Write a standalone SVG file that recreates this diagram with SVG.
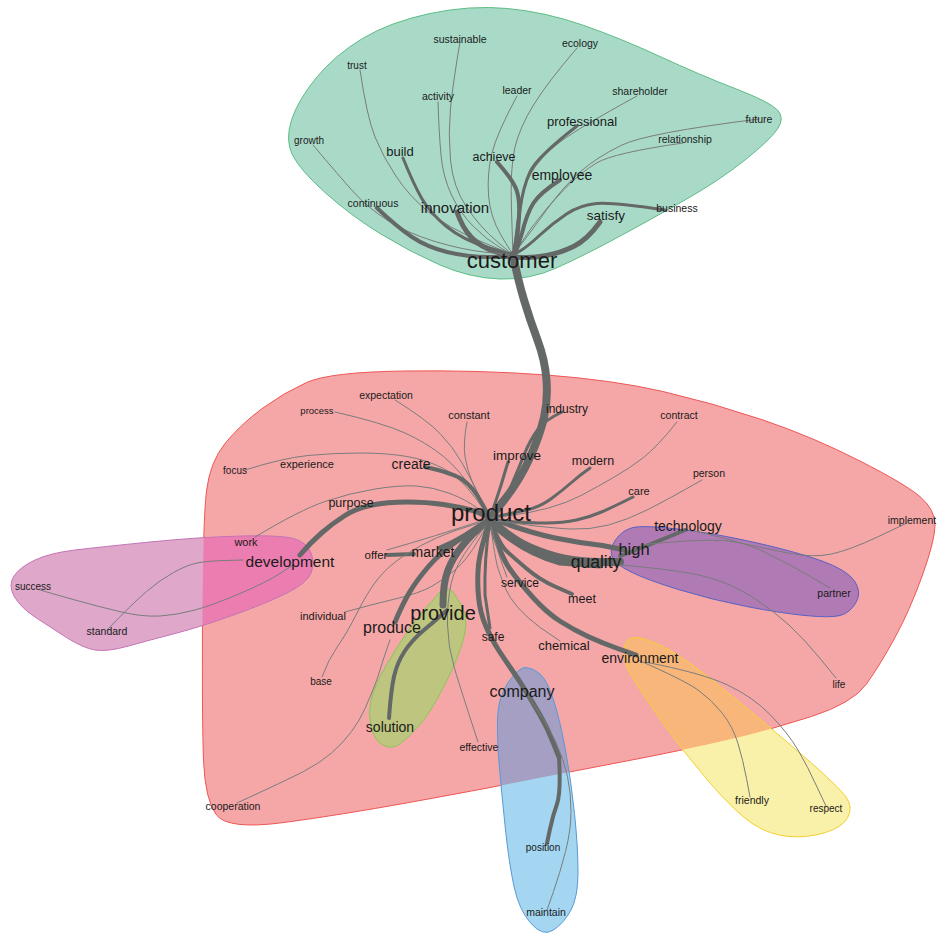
<svg xmlns="http://www.w3.org/2000/svg" width="941" height="938" viewBox="0 0 941 938">
<style>
.lbl{font-family:"Liberation Sans",Arial,sans-serif;fill:#1a1a1a;text-anchor:middle}
.e{fill:none;stroke:#646867;stroke-linecap:round;stroke-linejoin:round}
.t{fill:none;stroke:#7a7c7c;stroke-width:1;stroke-linecap:round;stroke-linejoin:round}
</style>
<defs>
<path id="redShape" d="M206.5,491 Q210,462 225,443.5 Q240,425 261.5,409 Q283,393 306.5,382.5 Q330,372 405,371 Q480,370 546.5,375 Q613,380 663,391.5 Q713,403 763,420 Q813,437 860,461 Q907,485 921,497.5 Q935,510 935,525 Q935,540 922.5,575 Q910,610 895,637.5 Q880,665 866.5,684 Q853,703 811.5,716.5 Q770,730 727,740 Q684,750 624,761.5 Q564,773 521,781.5 Q478,790 409,802.5 Q340,815 284,822.5 Q228,830 216.5,815 Q205,800 203.5,760 Q202,720 202.5,620 Q203,520 206.5,491 Z"/>
<path id="magShape" d="M14,596 Q8,585 14,576 Q20,567 35,560 Q50,553 75,550 Q100,547 150,542 Q200,537 241.5,536 Q283,535 295,539 Q307,543 311,553 Q315,563 311,573 Q307,583 287,593 Q267,603 233.5,615 Q200,627 175,633.5 Q150,640 128.5,646 Q107,652 95,650 Q83,648 66.5,637.5 Q50,627 35,617 Q20,607 14,596 Z"/>
<path id="blueShape" d="M526,667.5 Q519,667 508.5,682 Q498,697 497.5,718.5 Q497,740 499.5,768.5 Q502,797 505.5,830 Q509,863 514,886.5 Q519,910 531,923.5 Q543,937 553.5,930 Q564,923 571,910 Q578,897 578,872 Q578,847 574.5,813.5 Q571,780 565.5,750 Q560,720 553.5,700 Q547,680 540,674 Q533,668 526,667.5 Z"/>
<path id="yelShape" d="M624,649 Q626,638 634.5,637.5 Q643,637 663.5,647 Q684,657 727,692 Q770,727 804.5,757 Q839,787 846,797 Q853,807 848,817 Q843,827 825.5,832.5 Q808,838 789,836.5 Q770,835 753,824 Q736,813 710,783 Q684,753 662,721.5 Q640,690 631,675 Q622,660 624,649 Z"/>
<clipPath id="redClip"><use href="#redShape"/></clipPath>
</defs>
<g id="clusters">
<path id="cluster-customer" d="M292.5,155 Q285,140 291.5,120 Q298,100 316.5,77.5 Q335,55 362.5,38.5 Q390,22 430,13.5 Q470,5 507.5,8.5 Q545,12 582.5,25 Q620,38 660,56.5 Q700,75 735,88.5 Q770,102 777.5,110 Q785,118 777.5,129 Q770,140 745,160 Q720,180 685,200 Q650,220 617.5,237.5 Q585,255 557.5,267.5 Q530,280 500,279 Q470,278 440,265 Q410,252 380,233.5 Q350,215 325,192.5 Q300,170 292.5,155 Z" fill="#a9dac8" stroke="#5cbd84" stroke-width="1"/>
<use id="cluster-product" href="#redShape" fill="#f5a7a7" stroke="#ef5656" stroke-width="1"/>
<g id="cluster-development">
<use href="#magShape" fill="#dfa8cb"/>
<use href="#magShape" fill="#ec7db1" clip-path="url(#redClip)"/>
<use href="#magShape" fill="none" stroke="#c474b6" stroke-width="1"/>
</g>
<path id="cluster-provide" d="M446.5,589 Q452,588 457,598.5 Q464,607 465.5,618.5 Q467,630 460.5,648.5 Q454,667 442,690 Q430,713 419.5,725 Q409,737 400.5,743.5 Q392,750 383,745 Q374,740 371,726.5 Q368,713 371,700 Q374,687 386.5,665 Q399,643 412.5,625 Q426,607 434.5,598.5 Q441,589 446.5,589 Z" fill="#bec57e" stroke="#86c956" stroke-width="1"/>
<path id="cluster-quality" d="M611.5,555 Q610,547 616.5,538.5 Q623,530 633,527.5 Q643,525 678,529 Q713,533 755,542.5 Q797,552 822,561 Q847,570 854.5,581 Q862,592 856,602.5 Q850,613 840,615.5 Q830,618 805,615.5 Q780,613 746.5,606.5 Q713,600 680,590 Q647,580 630,571.5 Q613,563 611.5,555 Z" fill="#b07ab4" stroke="#5a62c2" stroke-width="1"/>
<g id="cluster-company">
<use href="#blueShape" fill="#a4d6f1"/>
<use href="#blueShape" fill="#a59fc3" clip-path="url(#redClip)"/>
<use href="#blueShape" fill="none" stroke="#5a98d6" stroke-width="1"/>
</g>
<g id="cluster-environment">
<use href="#yelShape" fill="#f9f1a9"/>
<use href="#yelShape" fill="#f9b67a" clip-path="url(#redClip)"/>
<use href="#yelShape" fill="none" stroke="#f2d02e" stroke-width="1"/>
</g>
</g>
<g id="connectors">
<path class="t" d="M360,70 Q367,117 375,137 Q383,157 396.5,177 Q410,197 428.5,212 Q447,227 480,241 L513,255"/>
<path class="t" d="M460,42 Q453,83 450.5,108 Q448,133 450.5,160 Q453,187 466.5,207 Q480,227 496.5,241 L513,255"/>
<path class="t" d="M438,102 Q439,133 441,155 Q443,177 451.5,195 Q460,213 473.5,226.5 Q487,240 500,247.5 L513,255"/>
<path class="t" d="M517,96 Q497,133 492,153 Q487,173 488.5,195 Q490,217 501.5,236 L513,255"/>
<path class="t" d="M577,48 Q547,83 533.5,105 Q520,127 515,147 Q510,167 511.5,211 L513,255"/>
<path class="t" d="M637,96 Q580,127 560,142 Q540,157 530,175 Q520,193 516.5,224 L513,255"/>
<path class="e" stroke-width="3" d="M577,126 Q537,157 530,172 Q523,187 520,210 Q517,233 515,244 L513,255"/>
<path class="t" stroke-width="1.3" d="M759,119 Q647,133 622,145 Q597,157 580,172 Q563,187 546.5,210 Q530,233 521.5,244 L513,255"/>
<path class="t" d="M683,143 Q613,153 596.5,163 Q580,173 563.5,190 Q547,207 532,227 L513,255"/>
<path class="e" stroke-width="4" d="M560,180 Q540,193 533.5,203 Q527,213 522,233 L515,255"/>
<path class="e" stroke-width="4" d="M497,162 Q513,180 516.5,190 Q520,200 519,216.5 Q518,233 516.5,244 L515,255"/>
<path class="e" stroke-width="3" d="M403,158 Q413,183 421.5,198 Q430,213 446.5,226.5 Q463,240 488,247.5 L513,255"/>
<path class="e" stroke-width="5" d="M457,212 Q462,227 471,237 Q480,247 496.5,252 L513,257"/>
<path class="t" d="M313,145 Q340,177 353.5,192 Q367,207 387,220 Q407,233 435,241.5 Q463,250 488,252.5 L513,255"/>
<path class="e" stroke-width="4" d="M377,208 Q397,227 412,237 Q427,247 447,252 Q467,257 490,257 L513,257"/>
<path class="e" stroke-width="3" d="M665,210 Q613,202 596.5,203.5 Q580,205 566.5,214 Q553,223 540,235 Q527,247 520,251 L513,255"/>
<path class="e" stroke-width="5" d="M600,222 Q587,240 573.5,246.5 Q560,253 546.5,255.5 Q533,258 523,257.5 L513,257"/>
<path class="e" stroke-width="8" d="M513,255 Q518,280 524,300 Q530,320 537.5,340 Q545,360 546.5,380 Q548,400 544,417.5 Q540,435 530,457.5 Q520,480 505,499 L490,518"/>
<path class="e" stroke-width="3" d="M562,412 Q545,420 537.5,430 Q530,440 524,455 Q518,470 511.5,485 Q505,500 497.5,509 L490,518"/>
<path class="e" stroke-width="3" d="M508,462 Q500,490 490,518"/>
<path class="t" stroke-width="1.5" d="M467,422 Q463,443 465,456.5 Q467,470 472,481 Q477,492 483.5,505 L490,518"/>
<path class="t" d="M395,400 Q427,420 440,433.5 Q453,447 461.5,462 Q470,477 480,497.5 L490,518"/>
<path class="t" d="M335,412 Q383,423 405,433 Q427,443 443.5,456.5 Q460,470 475,494 L490,518"/>
<path class="t" d="M245,470 Q283,458 308,455.5 Q333,453 360,453 Q387,453 407,456.5 Q427,460 443.5,468.5 Q460,477 475,497.5 L490,518"/>
<path class="e" stroke-width="4" d="M425,467 Q453,473 463,480 Q473,487 481.5,502.5 L490,518"/>
<path class="t" d="M255,537 Q300,510 325,501.5 Q350,493 375,489 Q400,485 416.5,486 Q433,487 450,493.5 Q467,500 478.5,509 L490,518"/>
<path class="e" stroke-width="5" d="M300,555 Q310,543 321.5,533 Q333,523 345,515.5 Q357,508 372,505 Q387,502 407,502 Q427,502 443.5,504.5 Q460,507 475,511 L490,518"/>
<path class="t" d="M40,590 Q50,593 75,600 Q100,607 121.5,612 Q143,617 160,616 Q177,615 195,610 Q213,605 240,593.5 Q267,582 280,573.5 L293,565"/>
<path class="t" d="M107,630 Q133,603 146.5,591.5 Q160,580 173.5,572.5 Q187,565 197,563 Q207,561 225,560.5 L243,560"/>
<path class="e" stroke-width="5" d="M440,548 Q467,537 490,518"/>
<path class="e" stroke-width="4" d="M387,555 L414,554"/>
<path class="t" d="M387,550 Q433,537 490,518"/>
<path class="t" d="M345,612 Q370,605 395,599 Q420,593 431.5,586.5 Q443,580 455,570 Q467,560 478.5,540 L490,520"/>
<path class="t" d="M322,677 Q328,660 337.5,646.5 Q347,633 357,613 Q367,593 377,580 Q387,567 403.5,556 Q420,545 437.5,537.5 Q455,530 472.5,525 L490,520"/>
<path class="e" stroke-width="5" d="M395,622 Q403,603 410,591.5 Q417,580 428.5,566.5 Q440,553 456.5,541.5 Q473,530 481.5,525 L490,520"/>
<path class="e" stroke-width="7" d="M443,605 Q443,583 448,570 Q453,557 463,545 Q473,533 481.5,526.5 L490,520"/>
<path class="e" stroke-width="4" d="M389,718 Q391,690 394,676.5 Q397,663 404.5,651.5 Q412,640 424,630 Q436,620 441.5,615 L447,610"/>
<path class="t" d="M478,742 Q461,690 454.5,668.5 Q448,647 447.5,625 Q447,603 451,584 Q455,565 472.5,542.5 L490,520"/>
<path class="t" d="M237,803 Q287,780 303.5,771.5 Q320,763 331.5,753 Q343,743 351.5,731.5 Q360,720 365,708.5 Q370,697 373.5,688.5 Q377,680 380,670 Q383,660 386.5,650 L390,640"/>
<path class="e" stroke-width="5" d="M490,520 Q480,550 478.5,565 Q477,580 478.5,596.5 Q480,613 486,626.5 Q492,640 498.5,650 Q505,660 512,670 Q519,680 526,691.5 Q533,703 540,715 Q547,727 553,742 L559,757"/>
<path class="e" stroke-width="4" d="M559,757 Q561,793 557,804 Q553,815 550,829 L547,843"/>
<path class="e" stroke-width="3" d="M490,520 Q484,560 485,595 L490,628"/>
<path class="t" d="M524,690 Q547,723 555.5,741.5 Q564,760 567.5,776.5 Q571,793 571,811.5 Q571,830 565.5,851.5 Q560,873 553.5,891.5 L547,910"/>
<path class="e" stroke-width="5" d="M490,520 Q500,555 509.5,568.5 Q519,582 533,597.5 Q547,613 560.5,621.5 Q574,630 588,636.5 Q602,643 619,649 L636,655"/>
<path class="t" stroke-width="1.5" d="M490,520 Q495,560 498.5,570 Q502,580 505.5,588.5 Q509,597 517.5,607 Q526,617 539.5,627 L560,641"/>
<path class="e" stroke-width="4" d="M490,520 Q500,545 506.5,551 Q513,557 526.5,568.5 Q540,580 555,586.5 L572,594"/>
<path class="t" stroke-width="1.5" d="M490,522 Q498,555 507,577"/>
<path class="t" stroke-width="1.3" d="M638,660 Q684,680 698,690 Q712,700 722.5,713.5 Q733,727 738,743.5 Q743,760 746.5,778.5 L750,797"/>
<path class="t" d="M645,662 Q702,673 727.5,685 Q753,697 770.5,715 Q788,733 798,750 Q808,767 817,787 L826,806"/>
<path class="e" stroke-width="8" d="M490,520 Q513,540 530,547.5 Q547,555 563.5,558.5 Q580,562 600,562 L620,562"/>
<path class="e" stroke-width="5" d="M490,522 Q520,552 560,563 L600,566"/>
<path class="e" stroke-width="5" d="M490,518 Q530,533 555,538 Q580,543 602.5,545.5 L625,550"/>
<path class="e" stroke-width="4" d="M620,556 Q657,542 685,530"/>
<path class="t" d="M620,565 Q680,570 705,576.5 Q730,583 751.5,596.5 Q773,610 789,625 Q805,640 820.5,659 L836,678"/>
<path class="t" d="M640,545 Q713,537 738,542.5 Q763,548 788,553 Q813,558 831.5,554 Q850,550 878.5,536.5 L907,523"/>
<path class="t" d="M690,530 Q747,543 763.5,551.5 Q780,560 796.5,568.5 L830,588"/>
<path class="e" stroke-width="3" d="M590,468 Q580,475 571.5,482.5 Q563,490 551.5,498.5 Q540,507 526.5,510 Q513,513 501.5,515.5 L490,518"/>
<path class="t" d="M677,422 Q657,447 643.5,457.5 Q630,468 613.5,477.5 Q597,487 582,495 Q567,503 548.5,508 Q530,513 510,515.5 L490,518"/>
<path class="e" stroke-width="3" d="M633,497 Q613,507 601.5,512 Q590,517 576.5,520 Q563,523 546.5,523 Q530,523 510,521.5 L490,520"/>
<path class="t" d="M702,480 Q667,500 647,510 Q627,520 608.5,525 Q590,530 570,529 Q550,528 520,524 L490,520"/>
</g>
<g id="nodes" class="lbl">
<text id="n-customer" x="512" y="268" font-size="22">customer</text>
<text id="n-sustainable" x="460" y="43" font-size="10.5">sustainable</text>
<text id="n-ecology" x="580" y="47" font-size="10.5">ecology</text>
<text id="n-trust" x="357" y="69" font-size="10">trust</text>
<text id="n-leader" x="517" y="94" font-size="10.5">leader</text>
<text id="n-activity" x="438" y="100" font-size="10.5">activity</text>
<text id="n-shareholder" x="640" y="95" font-size="10.5">shareholder</text>
<text id="n-professional" x="582" y="126" font-size="13">professional</text>
<text id="n-future" x="759" y="123" font-size="10.5">future</text>
<text id="n-growth" x="309" y="144" font-size="10">growth</text>
<text id="n-relationship" x="685" y="143" font-size="10.5">relationship</text>
<text id="n-build" x="400" y="156" font-size="13">build</text>
<text id="n-achieve" x="494" y="161" font-size="12.5">achieve</text>
<text id="n-employee" x="562" y="180" font-size="14">employee</text>
<text id="n-continuous" x="373" y="207" font-size="10.5">continuous</text>
<text id="n-innovation" x="455" y="213" font-size="15">innovation</text>
<text id="n-business" x="677" y="212" font-size="10.5">business</text>
<text id="n-satisfy" x="606" y="220" font-size="13.5">satisfy</text>
<text id="n-product" x="491" y="521" font-size="24">product</text>
<text id="n-expectation" x="386" y="399" font-size="10.5">expectation</text>
<text id="n-process" x="317" y="414" font-size="9.5">process</text>
<text id="n-constant" x="469" y="419" font-size="11">constant</text>
<text id="n-industry" x="567" y="413" font-size="12">industry</text>
<text id="n-contract" x="679" y="419" font-size="10.5">contract</text>
<text id="n-improve" x="517" y="460" font-size="13.5">improve</text>
<text id="n-modern" x="593" y="465" font-size="12.5">modern</text>
<text id="n-focus" x="235" y="474" font-size="10">focus</text>
<text id="n-experience" x="307" y="468" font-size="11">experience</text>
<text id="n-create" x="411" y="469" font-size="14">create</text>
<text id="n-person" x="709" y="477" font-size="10.5">person</text>
<text id="n-care" x="639" y="495" font-size="11">care</text>
<text id="n-purpose" x="351" y="507" font-size="12.5">purpose</text>
<text id="n-technology" x="688" y="531" font-size="14">technology</text>
<text id="n-implement" x="912" y="524" font-size="10.5">implement</text>
<text id="n-work" x="246" y="546" font-size="11">work</text>
<text id="n-development" x="290" y="567" font-size="15.5">development</text>
<text id="n-offer" x="376" y="559" font-size="11.5">offer</text>
<text id="n-market" x="433" y="557" font-size="14">market</text>
<text id="n-high" x="634" y="555" font-size="16.5">high</text>
<text id="n-quality" x="596" y="568" font-size="17.5">quality</text>
<text id="n-service" x="520" y="587" font-size="12">service</text>
<text id="n-partner" x="834" y="597" font-size="10.5">partner</text>
<text id="n-meet" x="582" y="603" font-size="12.5">meet</text>
<text id="n-individual" x="323" y="620" font-size="11">individual</text>
<text id="n-provide" x="443" y="620" font-size="20">provide</text>
<text id="n-produce" x="392" y="633" font-size="16">produce</text>
<text id="n-safe" x="493" y="641" font-size="12">safe</text>
<text id="n-chemical" x="564" y="650" font-size="13">chemical</text>
<text id="n-environment" x="640" y="663" font-size="14">environment</text>
<text id="n-company" x="522" y="697" font-size="16">company</text>
<text id="n-base" x="321" y="685" font-size="10">base</text>
<text id="n-life" x="839" y="688" font-size="10">life</text>
<text id="n-solution" x="390" y="732" font-size="14">solution</text>
<text id="n-effective" x="479" y="751" font-size="10.5">effective</text>
<text id="n-cooperation" x="233" y="810" font-size="10.5">cooperation</text>
<text id="n-friendly" x="752" y="804" font-size="10.5">friendly</text>
<text id="n-respect" x="826" y="812" font-size="10">respect</text>
<text id="n-position" x="543" y="851" font-size="10">position</text>
<text id="n-maintain" x="546" y="916" font-size="10.5">maintain</text>
<text id="n-success" x="33" y="590" font-size="10">success</text>
<text id="n-standard" x="107" y="635" font-size="10.5">standard</text>
</g>
</svg>
